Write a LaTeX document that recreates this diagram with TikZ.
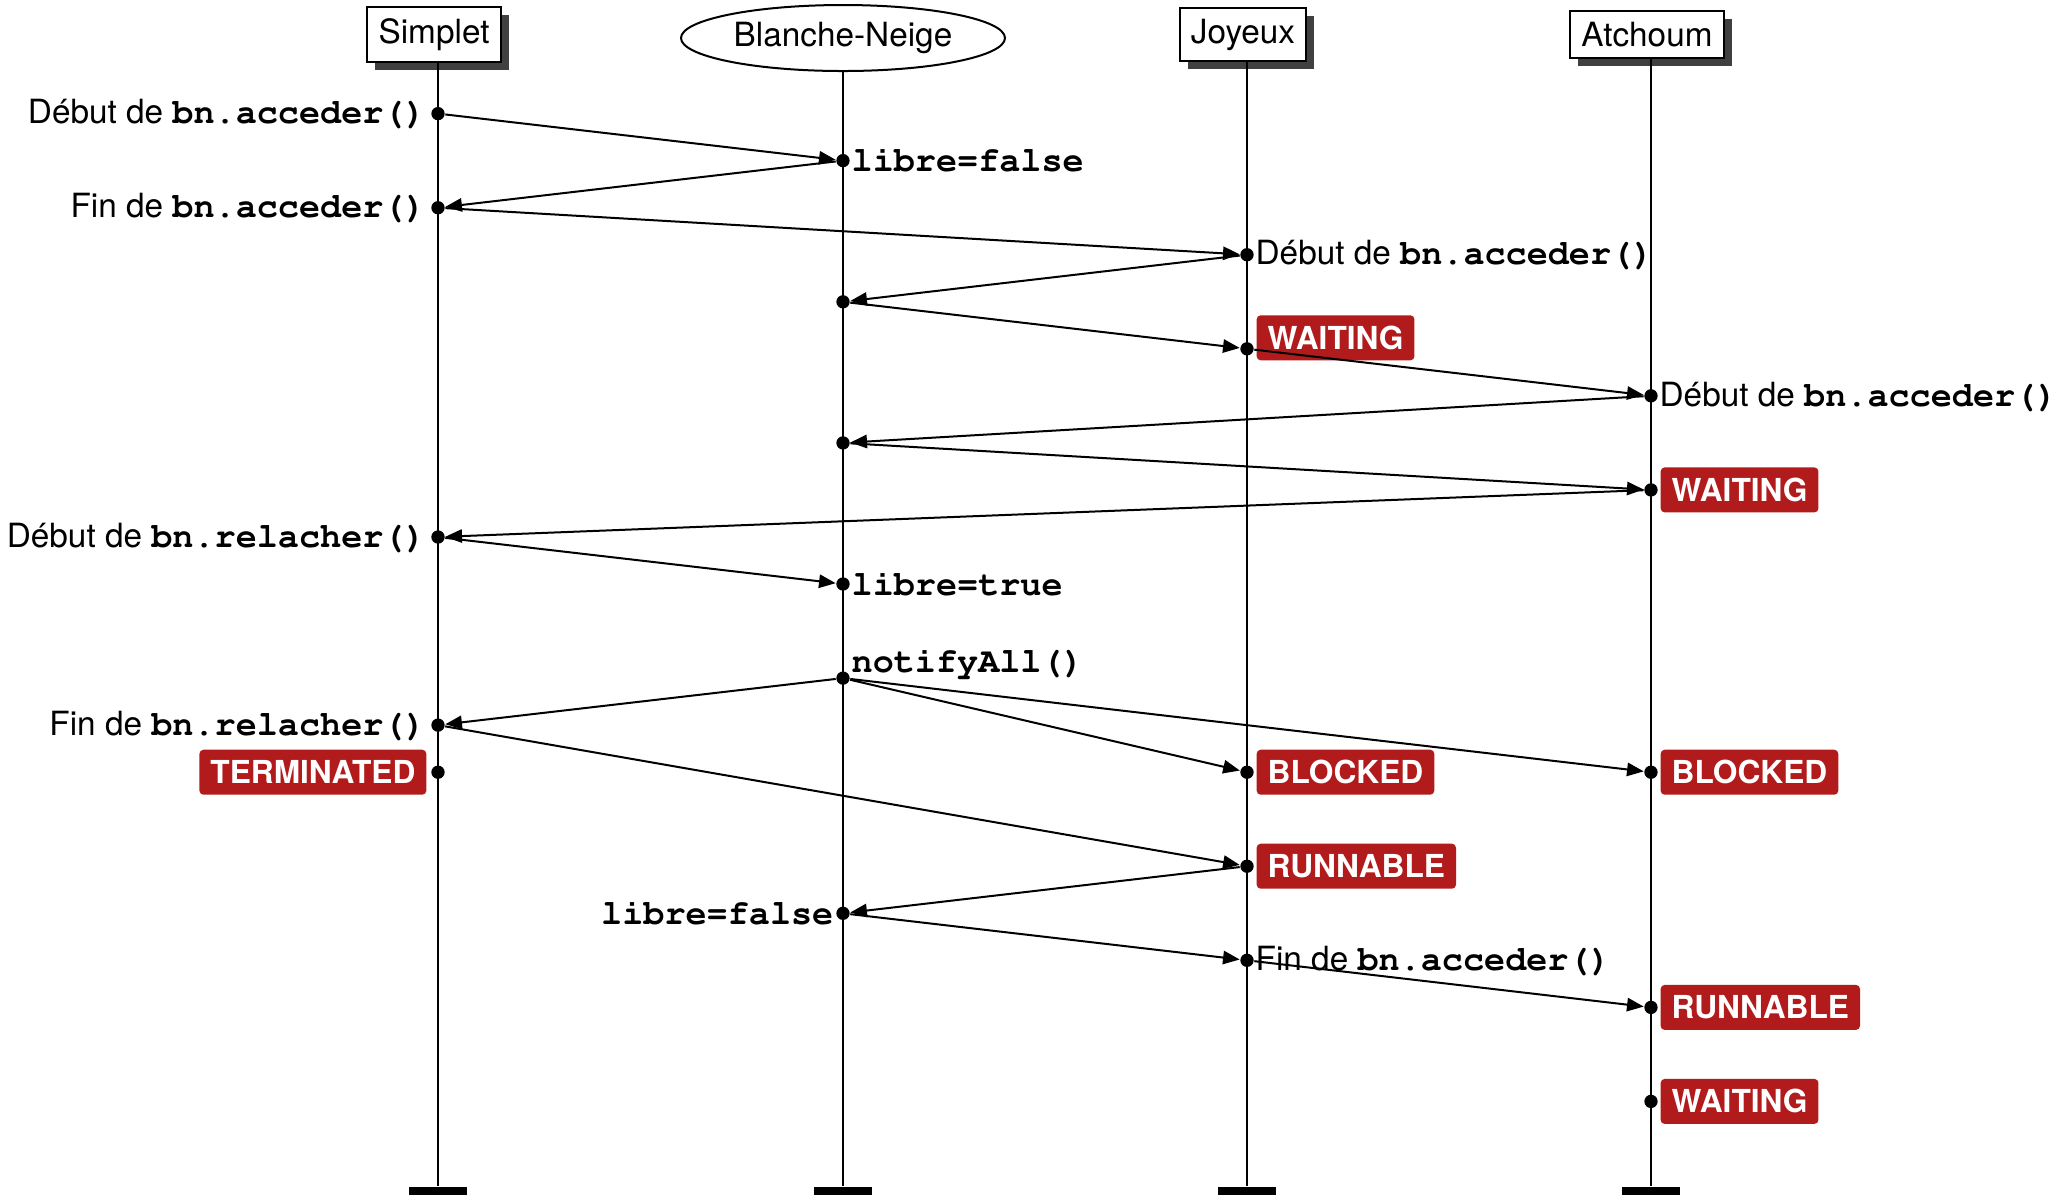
\documentclass[tikz,border=0pt]{standalone}
\usepackage{fontspec}
\setmainfont{TeX Gyre Heros}
\setsansfont{TeX Gyre Heros}
\setmonofont{Liberation Mono}[Scale=1.04]
\usetikzlibrary{arrows.meta,shapes.geometric,shadows}
\definecolor{badgered}{RGB}{178,27,28}
\newcommand{\cd}[1]{{\fontencoding{T1}\fontfamily{pcr}\bfseries\fontsize{10.55}{12}\selectfont #1}}
\begin{document}
\begin{tikzpicture}[x=0.3pt,y=-0.3pt,
  font=\fontsize{10}{12}\selectfont,
  actor/.style={draw, line width=0.6pt, fill=white, inner sep=3.33pt,
    drop shadow={shadow xshift=2.4pt,shadow yshift=-2.4pt,fill=black!75,opacity=1}},
  objell/.style={draw, ellipse, line width=0.6pt, fill=white, inner sep=0pt,
    minimum width=97.2pt, minimum height=19.8pt},
  lifeline/.style={line width=0.5pt},
  endbar/.style={fill=black, inner sep=0pt, minimum width=17.4pt, minimum height=6pt, anchor=north},
  evdot/.style={circle, fill=black, inner sep=0pt, minimum size=4pt},
  msg/.style={line width=0.6pt, -{Triangle[length=5pt,width=4pt]}},
  lbl/.style={inner sep=0pt},
  lleft/.style={lbl, anchor=east, xshift=-3.5pt},
  lright/.style={lbl, anchor=west, xshift=2.4pt},
  badge/.style={fill=badgered, text=white, rounded corners=1.2pt,
    font=\bfseries\fontsize{9.5}{11}\selectfont,
    inner xsep=3.3pt, inner ysep=3.3pt, text height=6.9pt, text depth=0pt},
  bright/.style={badge, anchor=west, xshift=2.7pt},
  bleft/.style={badge, anchor=east, xshift=-3.3pt}]
\useasboundingbox (0,0) rectangle (2071,1194);

% headers
\node[actor] (hS) at (434,34.5) {Simplet};
\node[objell] (hB) at (843,38) {Blanche-Neige};
\node[actor] (hJ) at (1243,34.5) {Joyeux};
\node[actor] (hA) at (1647,34.5) {Atchoum};

% end bars
\node[endbar] (bS) at (438,1186) {};
\node[endbar] (bB) at (843,1186) {};
\node[endbar] (bJ) at (1247,1186) {};
\node[endbar] (bA) at (1651,1186) {};

% lifelines
\draw[lifeline] (hS.south -| bS.north) -- (bS.north);
\draw[lifeline] (hB.south) -- (bB.north);
\draw[lifeline] (hJ.south -| bJ.north) -- (bJ.north);
\draw[lifeline] (hA.south -| bA.north) -- (bA.north);

% event dots
\node[evdot] (s0)  at (438,113.6) {};
\node[evdot] (s2)  at (438,207.7) {};
\node[evdot] (s9)  at (438,537.0) {};
\node[evdot] (s13) at (438,725.1) {};
\node[evdot] (s14) at (438,772.2) {};

\node[evdot] (b1)  at (843,160.6) {};
\node[evdot] (b4)  at (843,301.8) {};
\node[evdot] (b7)  at (843,442.9) {};
\node[evdot] (b10) at (843,584.0) {};
\node[evdot] (b12) at (843,678.1) {};
\node[evdot] (b17) at (843,913.3) {};

\node[evdot] (j3)  at (1247,254.7) {};
\node[evdot] (j5)  at (1247,348.8) {};
\node[evdot] (j14) at (1247,772.2) {};
\node[evdot] (j16) at (1247,866.2) {};
\node[evdot] (j18) at (1247,960.3) {};

\node[evdot] (a6)  at (1651,395.8) {};
\node[evdot] (a8)  at (1651,489.9) {};
\node[evdot] (a14) at (1651,772.2) {};
\node[evdot] (a19) at (1651,1007.4) {};
\node[evdot] (a21) at (1651,1101.4) {};

% labels
\node[lleft] (ls0) at (s0) {Début de \cd{bn.acceder()}};
\node[lleft] (ls2) at (s2) {Fin de \cd{bn.acceder()}};
\node[lleft] (ls9) at (s9) {Début de \cd{bn.relacher()}};
\node[lleft] (ls13) at (s13) {Fin de \cd{bn.relacher()}};
\node[bleft] (ls14) at (s14) {TERMINATED};

\node[lright] (lb1) at (b1) {\cd{libre=false}};
\node[lright] (lb10) at (b10) {\cd{libre=true}};
\node[lbl, anchor=base west, xshift=2.4pt, yshift=1.8pt] (lb12) at (b12) {\cd{notifyAll()}};
\node[lbl, anchor=east, xshift=-2.7pt] (lb17) at (b17) {\cd{libre=false}};

\node[lright] (lj3) at (j3) {Début de \cd{bn.acceder()}};
\node[bright, yshift=3.3pt] (lj5) at (j5) {WAITING};
\node[bright] (lj14) at (j14) {BLOCKED};
\node[bright] (lj16) at (j16) {RUNNABLE};
\node[lright] (lj18) at (j18) {Fin de \cd{bn.acceder()}};

\node[lright] (la6) at (a6) {Début de \cd{bn.acceder()}};
\node[bright] (la8) at (a8) {WAITING};
\node[bright] (la14) at (a14) {BLOCKED};
\node[bright] (la19) at (a19) {RUNNABLE};
\node[bright] (la21) at (a21) {WAITING};

% messages
\draw[msg] (s0) -- (b1);
\draw[msg] (b1) -- (s2);
\draw[msg] (s2) -- (j3);
\draw[msg] (j3) -- (b4);
\draw[msg] (b4) -- (j5);
\draw[msg] (j5) -- (a6);
\draw[msg] (a6) -- (b7);
\draw[msg] (b7) -- (a8);
\draw[msg] (a8) -- (s9);
\draw[msg] (s9) -- (b10);
\draw[msg] (b12) -- (s13);
\draw[msg] (b12) -- (j14);
\draw[msg] (b12) -- (a14);
\draw[msg] (s13) -- (j16);
\draw[msg] (j16) -- (b17);
\draw[msg] (b17) -- (j18);
\draw[msg] (j18) -- (a19);
\end{tikzpicture}
\end{document}
